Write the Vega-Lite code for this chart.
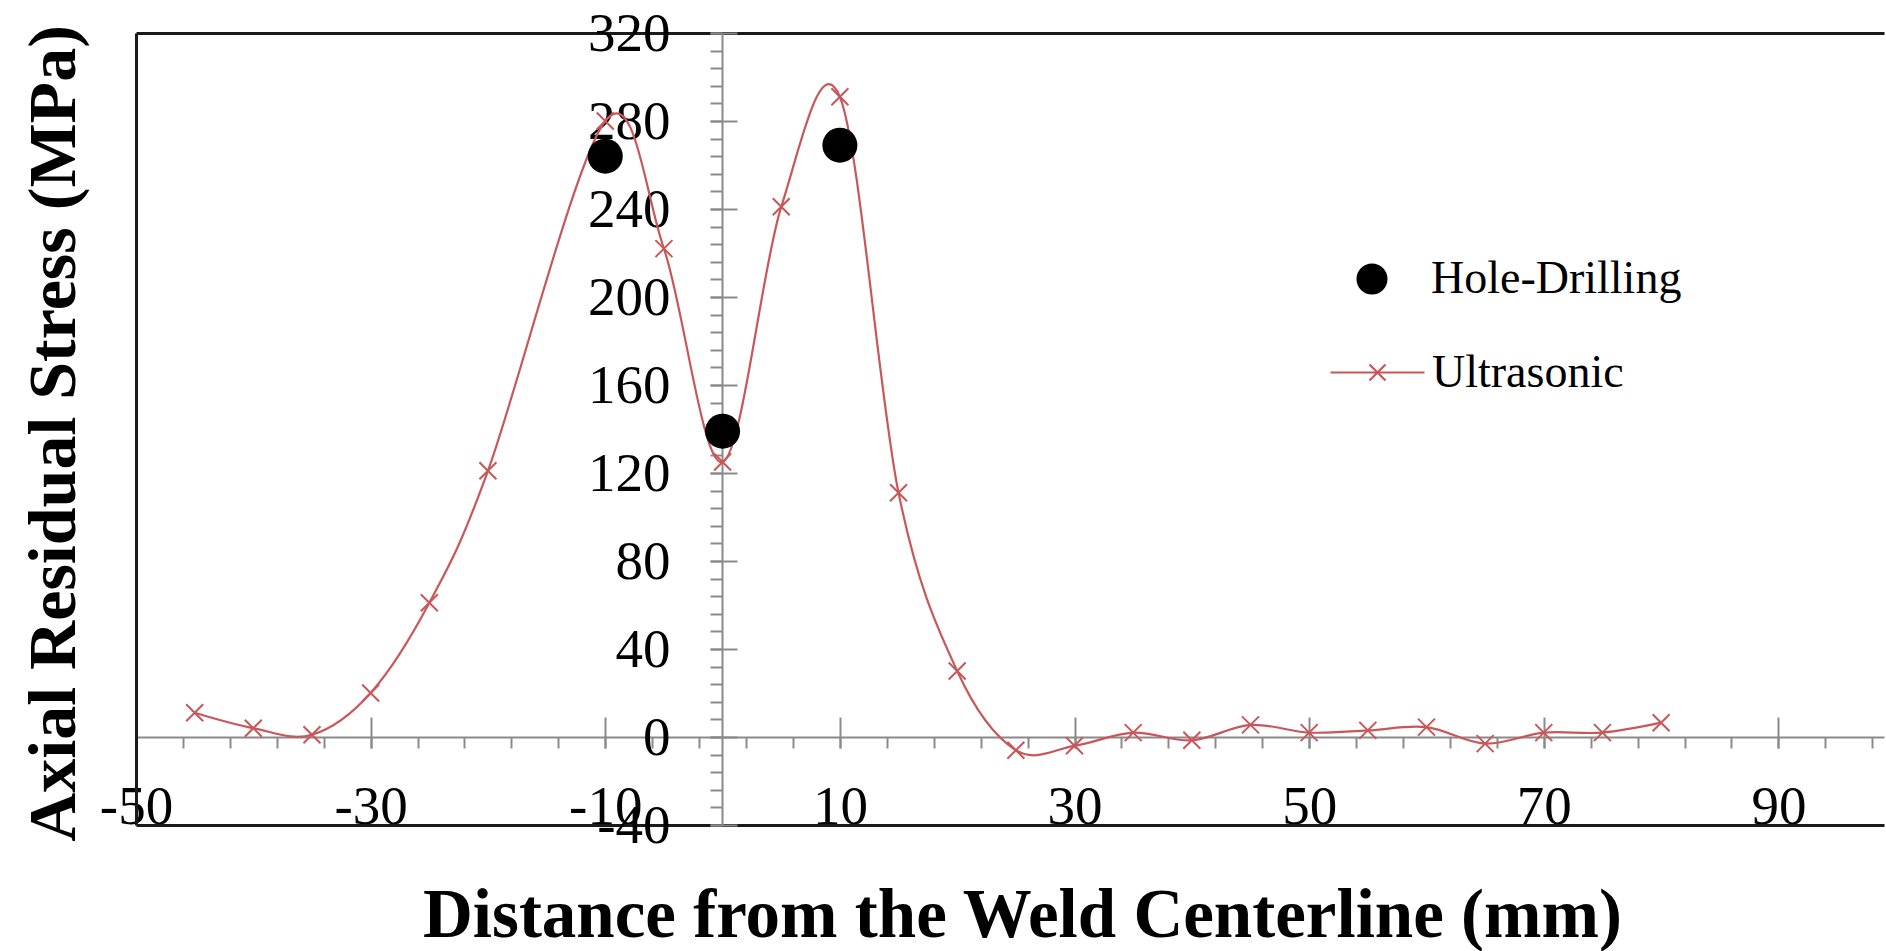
{
  "$schema": "https://vega.github.io/schema/vega-lite/v6.json",
  "width": 1748,
  "height": 792,
  "autosize": "none",
  "padding": {"left": 136, "top": 33, "right": 2, "bottom": 126},
  "background": "white",
  "datasets": {
    "us": [
      {"x": -45, "y": 11, "series": "Ultrasonic"},
      {"x": -40, "y": 4, "series": "Ultrasonic"},
      {"x": -35, "y": 1, "series": "Ultrasonic"},
      {"x": -30, "y": 20, "series": "Ultrasonic"},
      {"x": -25, "y": 61, "series": "Ultrasonic"},
      {"x": -20, "y": 121, "series": "Ultrasonic"},
      {"x": -10, "y": 280, "series": "Ultrasonic"},
      {"x": -5, "y": 222, "series": "Ultrasonic"},
      {"x": 0, "y": 125, "series": "Ultrasonic"},
      {"x": 5, "y": 241, "series": "Ultrasonic"},
      {"x": 10, "y": 291, "series": "Ultrasonic"},
      {"x": 15, "y": 111, "series": "Ultrasonic"},
      {"x": 20, "y": 30, "series": "Ultrasonic"},
      {"x": 25, "y": -6, "series": "Ultrasonic"},
      {"x": 30, "y": -4, "series": "Ultrasonic"},
      {"x": 35, "y": 2, "series": "Ultrasonic"},
      {"x": 40, "y": -1.5, "series": "Ultrasonic"},
      {"x": 45, "y": 5.5, "series": "Ultrasonic"},
      {"x": 50, "y": 2, "series": "Ultrasonic"},
      {"x": 55, "y": 3, "series": "Ultrasonic"},
      {"x": 60, "y": 4.5, "series": "Ultrasonic"},
      {"x": 65, "y": -3, "series": "Ultrasonic"},
      {"x": 70, "y": 2, "series": "Ultrasonic"},
      {"x": 75, "y": 2, "series": "Ultrasonic"},
      {"x": 80, "y": 6.5, "series": "Ultrasonic"}
    ],
    "hd": [
      {"x": -10, "y": 264, "series": "Hole-Drilling"},
      {"x": 0, "y": 139, "series": "Hole-Drilling"},
      {"x": 10, "y": 269, "series": "Hole-Drilling"}
    ]
  },
  "config": {
    "view": {"stroke": null},
    "axis": {"grid": false, "labelFont": "Liberation Serif", "titleFont": "Liberation Serif", "labelColor": "black", "titleColor": "black", "labelFlush": false, "labelOverlap": false}
  },
  "resolve": {"axis": {"x": "independent", "y": "independent"}},
  "layer": [
    {
      "data": {"name": "us"},
      "mark": {"type": "line", "interpolate": "cardinal", "strokeWidth": 2.2},
      "encoding": {
        "x": {"field": "x", "type": "quantitative", "scale": {"domain": [-50, 99], "nice": false, "zero": false},
          "axis": {"orient": "bottom", "offset": 0, "domain": true, "domainColor": "#1a1a1a", "domainWidth": 3, "ticks": false,
            "values": [-50, -30, -10, 10, 30, 50, 70, 90], "labelFontSize": 55, "labelPadding": -2, "labelBaseline": "alphabetic",
            "labelExpr": "(datum.value < 0 ? '-' : '') + abs(datum.value)",
            "title": "Distance from the Weld Centerline (mm)", "titleFontSize": 69, "titleFontWeight": "bold",
            "titleX": 886, "titleY": 111, "titleBaseline": "alphabetic", "titleAlign": "center"}},
        "y": {"field": "y", "type": "quantitative", "scale": {"domain": [-40, 320], "nice": false, "zero": false},
          "axis": {"orient": "left", "offset": 0, "domain": true, "domainColor": "#1a1a1a", "domainWidth": 3, "ticks": false, "labels": false,
            "title": "Axial Residual Stress (MPa)", "titleFontSize": 68, "titleFontWeight": "bold",
            "titleX": -62, "titleY": 400, "titleAngle": 270, "titleBaseline": "alphabetic", "titleAlign": "center"}},
        "stroke": {"field": "series", "type": "nominal", "scale": {"range": ["#C8575A"]},
          "legend": {"orient": "none", "legendX": 1193, "legendY": 291, "title": null,
            "symbolType": "M-1,0H1M-0.17,-0.17L0.17,0.17M0.17,-0.17L-0.17,0.17", "symbolSize": 8836, "symbolStrokeWidth": 2.2,
            "symbolFillColor": "transparent", "labelFontSize": 46, "labelFont": "Liberation Serif", "labelOffset": 6, "labelLimit": 0, "labelColor": "black"}}
      }
    },
    {
      "data": {"name": "us"},
      "mark": {"type": "point", "shape": "M-1,-1L1,1M1,-1L-1,1", "size": 289, "filled": false, "stroke": "#C8575A", "strokeWidth": 2, "opacity": 1},
      "encoding": {
        "x": {"field": "x", "type": "quantitative", "scale": {"domain": [-50, 99], "nice": false, "zero": false},
          "axis": {"orient": "top", "domain": true, "domainColor": "#1a1a1a", "domainWidth": 3, "ticks": false, "labels": false, "title": null}},
        "y": {"field": "y", "type": "quantitative", "scale": {"domain": [-40, 320], "nice": false, "zero": false},
          "axis": {"orient": "left", "offset": -586, "domain": true, "domainColor": "#8a8a8a", "domainWidth": 2,
            "values": [-40,-32,-24,-16,-8,0,8,16,24,32,40,48,56,64,72,80,88,96,104,112,120,128,136,144,152,160,168,176,184,192,200,208,216,224,232,240,248,256,264,272,280,288,296,304,312,320],
            "tickSize": 12, "tickColor": "#8a8a8a", "tickWidth": 2, "labels": false, "title": null}}
      }
    },
    {
      "data": {"name": "hd"},
      "mark": {"type": "point", "shape": "circle", "size": 1225, "filled": true, "opacity": 1, "strokeWidth": 0},
      "encoding": {
        "x": {"field": "x", "type": "quantitative", "scale": {"domain": [-50, 99], "nice": false, "zero": false},
          "axis": {"orient": "bottom", "offset": -88, "domain": true, "domainColor": "#8a8a8a", "domainWidth": 2,
            "values": [-50,-46,-42,-38,-34,-30,-26,-22,-18,-14,-10,-6,-2,2,6,10,14,18,22,26,30,34,38,42,46,50,54,58,62,66,70,74,78,82,86,90,94,98],
            "tickSize": 11, "tickColor": "#8a8a8a", "tickWidth": 2, "labels": false, "title": null}},
        "y": {"field": "y", "type": "quantitative", "scale": {"domain": [-40, 320], "nice": false, "zero": false},
          "axis": {"orient": "left", "offset": -601, "domain": false,
            "values": [-40, 0, 40, 80, 120, 160, 200, 240, 280, 320],
            "labelExpr": "(datum.value < 0 ? '-' : '') + abs(datum.value)",
            "tickSize": 27, "tickColor": "#8a8a8a", "tickWidth": 2, "labelFontSize": 55, "labelPadding": 40, "title": null}},
        "fill": {"field": "series", "type": "nominal", "scale": {"range": ["#000000"]},
          "legend": {"orient": "none", "legendX": 1213, "legendY": 223, "title": null, "symbolType": "circle", "symbolSize": 961,
            "symbolStrokeWidth": 0, "labelFontSize": 46, "labelFont": "Liberation Serif", "labelOffset": 36, "labelLimit": 0, "labelColor": "black"}}
      }
    },
    {
      "data": {"name": "hd"},
      "mark": {"type": "point", "opacity": 0},
      "encoding": {
        "x": {"field": "x", "type": "quantitative", "scale": {"domain": [-50, 99], "nice": false, "zero": false},
          "axis": {"orient": "bottom", "offset": -108, "domain": false, "values": [-50, -30, -10, 10, 30, 50, 70, 90],
            "tickSize": 31, "tickColor": "#8a8a8a", "tickWidth": 2, "labels": false, "title": null}},
        "y": {"field": "y", "type": "quantitative", "scale": {"domain": [-40, 320], "nice": false, "zero": false}, "axis": null}
      }
    }
  ]
}
